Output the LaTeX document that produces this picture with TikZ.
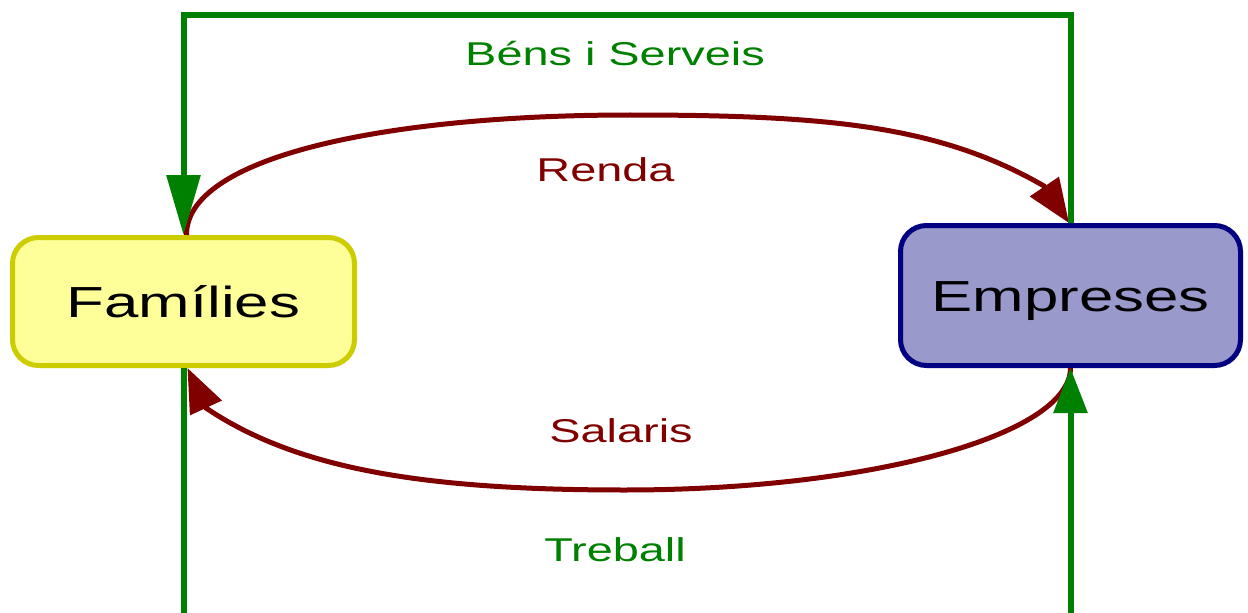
\documentclass[tikz,border=0pt]{standalone}
\usepackage{fontspec}
\setmainfont{Liberation Sans}[FakeStretch=1.42]
\usetikzlibrary{arrows.meta, calc}
\usepackage{xcolor}
\definecolor{flowgreen}{HTML}{008000}
\definecolor{flowred}{HTML}{800000}
\definecolor{famfill}{HTML}{FFFF99}
\definecolor{famline}{HTML}{CCCC00}
\definecolor{empfill}{HTML}{9999CC}
\definecolor{empline}{HTML}{000080}

\begin{document}
\begin{tikzpicture}[x=0.5pt, y=0.5pt,
	agent/.style={rounded corners=13pt, line width=2.5pt, font=\fontsize{21.75}{26}\selectfont, text height=15.6pt, text depth=0pt},
	flowlabel/.style={font=\fontsize{16.5}{20}\selectfont, text height=11.8pt, text depth=0pt, inner sep=0pt},
	goods/.style={draw=flowgreen, line width=3pt},
	money/.style={draw=flowred, line width=2.5pt}]
	\clip (0,0) rectangle (1248,612);
	\node [agent, draw=famline, fill=famfill, minimum width=171pt, minimum height=64pt] (fam) at (183.5,310.5) {Famílies};
	\node [agent, draw=empline, fill=empfill, minimum width=170pt, minimum height=70pt] (emp) at (1070.5,316.5) {Empreses};
	\coordinate (roof) at (627,597);
	\coordinate (floor) at (627,-40);
	\coordinate (rendatop) at (630,497);
	\coordinate (rendaend) at (1044,426);
	\coordinate (salarisbot) at (625,122);
	\coordinate (salarisend) at (206,204);
	\draw [money, -{Triangle[length=22pt, width=17pt]}] ($(fam.north)+(3,0)$) .. controls (186,455) and (385,497) .. (rendatop) .. controls (830,497) and (940,486) .. (rendaend) -- ($(emp.north)+(-1.5,0)$);
	\draw [money, -{Triangle[length=22pt, width=17pt]}] (emp.south) .. controls (1070,177) and (871,122) .. (salarisbot) .. controls (425,122) and (297,142.5) .. (salarisend) -- ($(fam.south)+(4,0)$);
	\draw [goods, -{Triangle[length=30pt, width=16.5pt]}] (emp.north) |- (roof) -| (fam.north);
	\draw [goods, -{Triangle[length=22.5pt, width=16.5pt]}] (fam.south) |- (floor) -| (emp.south);
	\node [flowlabel, text=flowgreen] (bens) at (615,558) {Béns i Serveis};
	\node [flowlabel, text=flowred] (renda) at (605.5,442) {Renda};
	\node [flowlabel, text=flowred] (salaris) at (621,181) {Salaris};
	\node [flowlabel, text=flowgreen] (treball) at (615,62.5) {Treball};
\end{tikzpicture}
\end{document}
